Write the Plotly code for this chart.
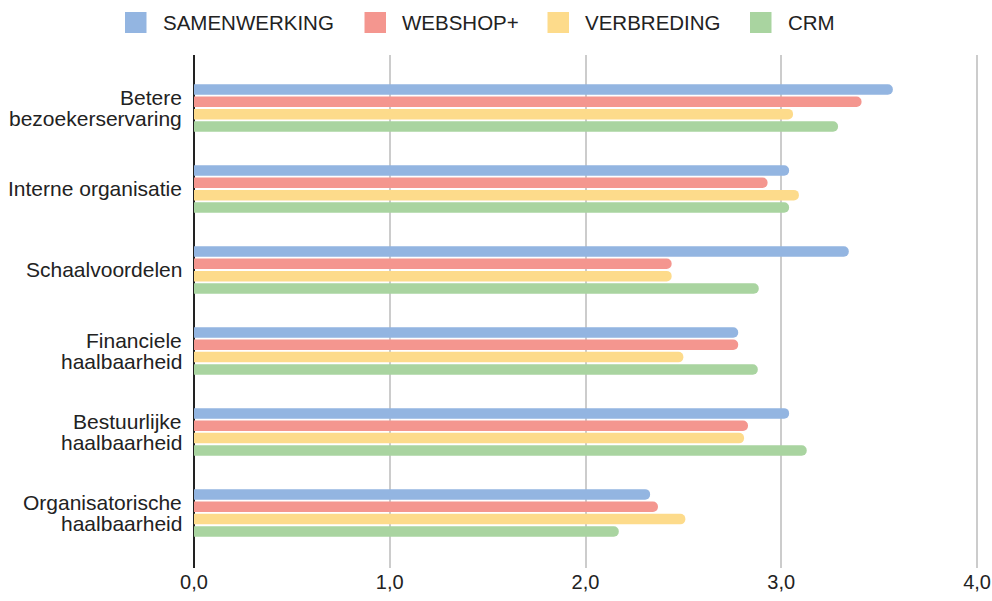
import plotly.graph_objects as go

categories = ["Betere<br>bezoekerservaring", "Interne organisatie", "Schaalvoordelen",
              "Financiele<br>haalbaarheid", "Bestuurlijke<br>haalbaarheid",
              "Organisatorische<br>haalbaarheid"]
series_names = ["SAMENWERKING", "WEBSHOP+", "VERBREDING", "CRM"]
samenwerking = [3.57, 3.04, 3.345, 2.78, 3.04, 2.33]
webshop = [3.41, 2.93, 2.44, 2.78, 2.83, 2.37]
verbreding = [3.06, 3.09, 2.44, 2.50, 2.81, 2.51]
crm = [3.29, 3.04, 2.885, 2.88, 3.13, 2.17]
x_tickvals = [0, 1, 2, 3, 4]
x_ticktext = ["0,0", "1,0", "2,0", "3,0", "4,0"]

colors = ["#93b5e1", "#f4968f", "#fddb8b", "#a9d4a0"]
values = [samenwerking, webshop, verbreding, crm]

FONT = "Liberation Sans, Arial, Helvetica, sans-serif"
TXT = "#222222"

# layout geometry (pixels)
W, H = 992, 601
ML, MR, MT, MB = 194, 13, 55, 33
PW, PH = W - ML - MR, H - MT - MB
XMAX = 4.01


def px_to_paper_x(px):
    return (px - ML) / PW


def py_to_paper_y(py):
    return (H - MB - py) / PH


fig = go.Figure()
for name, vals, col in zip(series_names, values, colors):
    fig.add_trace(go.Bar(
        y=list(range(len(categories))), x=vals, name=name, orientation="h",
        marker=dict(color=col, line=dict(width=0)), showlegend=False,
    ))

annotations = []
shapes = []

# category labels (tight line spacing like the reference)
LINE = 21.5
for i, cat in enumerate(categories):
    lines = cat.split("<br>")
    n = len(lines)
    for j, ln in enumerate(lines):
        off = ((n - 1) / 2 - j) * LINE
        annotations.append(dict(
            text=ln, xref="paper", x=0, xanchor="right", xshift=-10,
            yref="y", y=i, yanchor="middle", yshift=off, showarrow=False,
            font=dict(size=21, color=TXT, family=FONT),
        ))

# custom legend
legend_swatch_left = [125, 364.5, 547.5, 750]
SW = 21.5
for name, col, lx in zip(series_names, colors, legend_swatch_left):
    shapes.append(dict(
        type="rect", xref="paper", yref="paper",
        x0=px_to_paper_x(lx), x1=px_to_paper_x(lx + SW),
        y0=py_to_paper_y(33.0), y1=py_to_paper_y(12.0),
        fillcolor=col, line=dict(width=0), layer="above",
    ))
    annotations.append(dict(
        text=name, xref="paper", x=px_to_paper_x(lx + SW + 14), xanchor="left",
        yref="paper", y=py_to_paper_y(22.5), yanchor="middle", showarrow=False,
        font=dict(size=20.5, color=TXT, family=FONT),
    ))

fig.update_layout(
    width=W, height=H,
    margin=dict(l=ML, r=MR, t=MT, b=MB, autoexpand=False),
    paper_bgcolor="white", plot_bgcolor="white",
    barmode="group", bargap=0.39, bargroupgap=0.15, barcornerradius=5,
    font=dict(family=FONT, size=20, color=TXT),
    showlegend=False,
    annotations=annotations, shapes=shapes,
    xaxis=dict(range=[0, XMAX], tickvals=x_tickvals, ticktext=x_ticktext,
               showgrid=True, gridcolor="#cccccc", gridwidth=1.5,
               zeroline=True, zerolinecolor="#222222", zerolinewidth=1.5,
               showline=False, ticks="", tickfont=dict(size=20, color=TXT),
               automargin=False, ticklabelstandoff=0),
    yaxis=dict(range=[5.68, -0.654], showgrid=False, showticklabels=False,
               zeroline=False, showline=False, ticks="", automargin=False),
)

fig.write_html("out.html")
